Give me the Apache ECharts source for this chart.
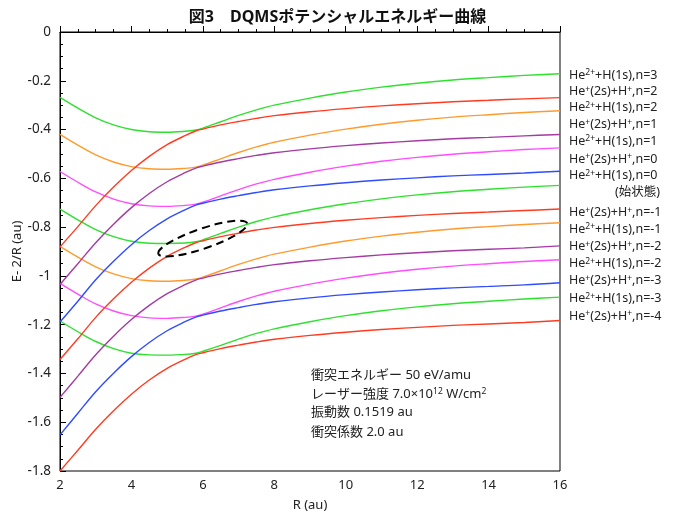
<!DOCTYPE html>
<html>
<head>
<meta charset="utf-8">
<script src="https://cdn.jsdelivr.net/npm/echarts@6/dist/echarts.min.js"></script>
<style>
  html, body { margin: 0; padding: 0; background: #fff; }
  #chart { width: 675px; height: 512px; }
</style>
</head>
<body>
<div id="chart"></div>
<script>
// internuclear distance R (au)
const R = [2, 2.5, 3, 3.5, 4, 4.5, 5, 5.5, 5.8, 6, 6.5, 7, 7.5, 8, 9, 10, 11, 12, 13, 14, 15, 16];

// curves with a minimum near R=5 (He2+ + H(1s) side at large R)
const he2n3  = [-0.268,-0.312,-0.352,-0.381,-0.400,-0.409,-0.411,-0.407,-0.402,-0.394,-0.368,-0.342,-0.319,-0.300,-0.271,-0.246,-0.226,-0.210,-0.197,-0.187,-0.178,-0.171];
const he2n2  = [-0.420,-0.464,-0.504,-0.533,-0.552,-0.561,-0.563,-0.559,-0.554,-0.546,-0.520,-0.494,-0.471,-0.452,-0.423,-0.398,-0.378,-0.362,-0.349,-0.339,-0.330,-0.323];
const he2n1  = [-0.572,-0.616,-0.656,-0.685,-0.704,-0.713,-0.715,-0.711,-0.706,-0.698,-0.672,-0.646,-0.623,-0.604,-0.575,-0.550,-0.530,-0.514,-0.501,-0.491,-0.482,-0.475];
const he2n0  = [-0.726,-0.770,-0.810,-0.839,-0.858,-0.866,-0.867,-0.865,-0.860,-0.852,-0.826,-0.800,-0.777,-0.758,-0.729,-0.704,-0.684,-0.668,-0.655,-0.645,-0.636,-0.629];
const he2nm1 = [-0.879,-0.923,-0.963,-0.992,-1.011,-1.020,-1.022,-1.018,-1.013,-1.005,-0.979,-0.953,-0.930,-0.911,-0.882,-0.857,-0.837,-0.821,-0.808,-0.798,-0.789,-0.782];
const he2nm2 = [-1.031,-1.075,-1.115,-1.144,-1.163,-1.172,-1.174,-1.170,-1.165,-1.157,-1.131,-1.105,-1.082,-1.063,-1.034,-1.009,-0.989,-0.973,-0.960,-0.950,-0.941,-0.934];
const he2nm3 = [-1.185,-1.229,-1.269,-1.298,-1.317,-1.324,-1.325,-1.322,-1.317,-1.309,-1.285,-1.259,-1.236,-1.217,-1.188,-1.163,-1.143,-1.127,-1.114,-1.104,-1.095,-1.087];

// rising curves (He+(2s) + H+ side at large R)
const hepn2  = [-0.881,-0.798,-0.712,-0.636,-0.568,-0.510,-0.462,-0.425,-0.406,-0.398,-0.381,-0.367,-0.354,-0.343,-0.327,-0.314,-0.303,-0.294,-0.286,-0.280,-0.274,-0.269];
const hepn1  = [-1.035,-0.950,-0.864,-0.788,-0.720,-0.662,-0.614,-0.577,-0.558,-0.550,-0.533,-0.519,-0.506,-0.495,-0.479,-0.466,-0.455,-0.446,-0.438,-0.432,-0.426,-0.420];
const hepn0  = [-1.189,-1.104,-1.016,-0.940,-0.872,-0.814,-0.766,-0.729,-0.710,-0.702,-0.685,-0.671,-0.658,-0.647,-0.631,-0.618,-0.607,-0.598,-0.590,-0.584,-0.578,-0.571];
const hepnm1 = [-1.343,-1.258,-1.170,-1.094,-1.026,-0.968,-0.920,-0.883,-0.864,-0.856,-0.839,-0.825,-0.812,-0.801,-0.785,-0.772,-0.761,-0.752,-0.744,-0.738,-0.732,-0.726];
const hepnm2 = [-1.498,-1.411,-1.323,-1.247,-1.179,-1.121,-1.073,-1.036,-1.017,-1.009,-0.992,-0.978,-0.965,-0.954,-0.938,-0.925,-0.914,-0.905,-0.897,-0.891,-0.885,-0.877];
const hepnm3 = [-1.652,-1.563,-1.475,-1.399,-1.331,-1.273,-1.225,-1.188,-1.169,-1.161,-1.144,-1.130,-1.117,-1.106,-1.090,-1.077,-1.066,-1.057,-1.049,-1.043,-1.037,-1.028];
const hepnm4 = [-1.800,-1.715,-1.629,-1.553,-1.485,-1.427,-1.379,-1.342,-1.323,-1.315,-1.298,-1.284,-1.271,-1.260,-1.244,-1.231,-1.220,-1.211,-1.203,-1.197,-1.191,-1.183];

const stateLabels = [
  'He{s|2+}+H(1s),n=3', 'He{s|+}(2s)+H{s|+},n=2', 'He{s|2+}+H(1s),n=2', 'He{s|+}(2s)+H{s|+},n=1',
  'He{s|2+}+H(1s),n=1', 'He{s|+}(2s)+H{s|+},n=0', 'He{s|2+}+H(1s),n=0', '(始状態)',
  'He{s|+}(2s)+H{s|+},n=-1', 'He{s|2+}+H(1s),n=-1', 'He{s|+}(2s)+H{s|+},n=-2', 'He{s|2+}+H(1s),n=-2',
  'He{s|+}(2s)+H{s|+},n=-3', 'He{s|2+}+H(1s),n=-3', 'He{s|+}(2s)+H{s|+},n=-4'
];
const noteLines = [
  '衝突エネルギー 50 eV/amu',
  'レーザー強度 7.0×10{s|12} W/cm{s|2}',
  '振動数 0.1519 au',
  '衝突係数 2.0 au'
];

const GREEN = '#2fe02f', ORANGE = '#ff9b2e', MAGENTA = '#ff4dff',
      RED = '#ff3c22', PURPLE = '#a43aa4', BLUE = '#2f4cff';
const FONT = "'Noto Sans', 'Noto Sans CJK JP', sans-serif";

const curves = [
  [he2n3, GREEN], [he2n2, ORANGE], [he2n1, MAGENTA], [he2n0, GREEN],
  [he2nm1, ORANGE], [he2nm2, MAGENTA], [he2nm3, GREEN],
  [hepn2, RED], [hepn1, PURPLE], [hepn0, BLUE], [hepnm1, RED],
  [hepnm2, PURPLE], [hepnm3, BLUE], [hepnm4, RED]
];

const series = curves.map(function (c, i) {
  return {
    type: 'line',
    name: 'c' + i,
    data: R.map(function (r, j) { return [r, c[0][j]]; }),
    showSymbol: false,
    smooth: 0.35,
    lineStyle: { color: c[1], width: 1.4 },
    itemStyle: { color: c[1] }
  };
});

const chart = echarts.init(document.getElementById('chart'));
chart.setOption({
  animation: false,
  backgroundColor: '#fff',
  title: {
    text: '図3　DQMSポテンシャルエネルギー曲線',
    left: 'center',
    top: 4,
    textStyle: { fontFamily: FONT, fontSize: 16, fontWeight: 'bold', color: '#111' }
  },
  grid: {
    left: 60, right: 115, top: 32, bottom: 41,
    outerBoundsMode: 'none', containLabel: false,
    show: true, borderColor: '#000', borderWidth: 1
  },
  xAxis: {
    type: 'value', min: 2, max: 16, interval: 2,
    name: 'R (au)', nameLocation: 'middle', nameGap: 28,
    nameTextStyle: { fontFamily: FONT, fontSize: 13, color: '#222' },
    axisLine: { lineStyle: { color: '#000' } },
    axisTick: { inside: true, length: 6, lineStyle: { color: '#000' } },
    minorTick: { show: true, splitNumber: 4, length: 3, lineStyle: { color: '#000' } },
    splitLine: { show: false },
    axisLabel: { fontFamily: FONT, fontSize: 13, color: '#222', margin: 8 }
  },
  yAxis: {
    type: 'value', min: -1.8, max: 0, interval: 0.2,
    name: 'E- 2/R (au)', nameLocation: 'middle', nameGap: 36,
    nameMoveOverlap: false,
    nameTextStyle: { fontFamily: FONT, fontSize: 13, color: '#222' },
    axisLine: { lineStyle: { color: '#000' } },
    axisTick: { inside: true, length: 6, lineStyle: { color: '#000' } },
    minorTick: { show: true, splitNumber: 4, length: 3, lineStyle: { color: '#000' } },
    splitLine: { show: false },
    axisLabel: { fontFamily: FONT, fontSize: 13.5, color: '#222', margin: 9 }
  },
  series: series
});

// labels on the right, notes, and the dashed ellipse
const labelY = [75, 91.7, 107.7, 124.3, 141, 159, 175.7, 192.7, 212.7, 229, 246.7, 263.3, 280.7, 298.3, 316];
const supStyle = { s: { fontSize: 8.5, verticalAlign: 'top', fontFamily: FONT, fill: '#222' } };
const graphics = [];
stateLabels.forEach(function (t, i) {
  const isInit = t.indexOf('始') >= 0;
  graphics.push({
    type: 'text',
    x: isInit ? 660 : 569,
    y: labelY[i],
    style: {
      text: t, rich: supStyle, fontFamily: FONT, fontSize: 12.5, fill: '#222',
      align: isInit ? 'right' : 'left', verticalAlign: 'middle'
    }
  });
});
const noteY = [375, 394, 412, 432];
noteLines.forEach(function (t, i) {
  graphics.push({
    type: 'text', x: 311, y: noteY[i],
    style: { text: t, rich: supStyle, fontFamily: FONT, fontSize: 13, fill: '#222', verticalAlign: 'middle' }
  });
});
const ctr = chart.convertToPixel({ gridIndex: 0 }, [6.0, -0.847]);
graphics.push({
  type: 'ellipse',
  x: ctr[0], y: ctr[1],
  rotation: 0.33,
  shape: { cx: 0, cy: 0, rx: 47, ry: 10 },
  style: { fill: 'none', stroke: '#000', lineWidth: 2, lineDash: [8, 5] },
  z: 100
});
chart.setOption({ graphic: graphics });
</script>
</body>
</html>
